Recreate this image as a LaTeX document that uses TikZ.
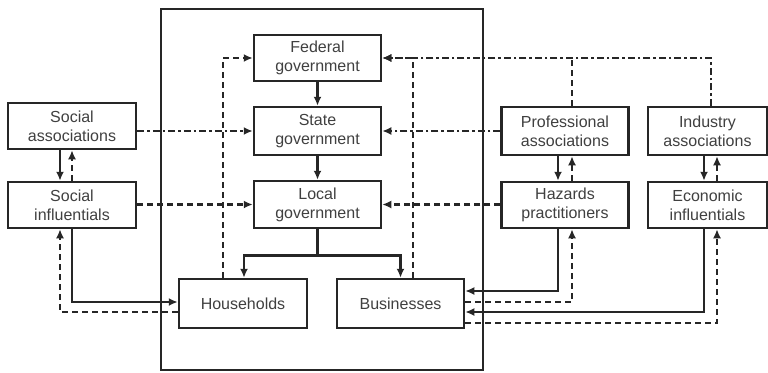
\documentclass[tikz,border=0pt]{standalone}
\usepackage{fontspec}
\setmainfont{Liberation Sans}
\usepackage{tikz}
\usetikzlibrary{arrows.meta}

\begin{document}
\begin{tikzpicture}[x=1pt, y=-1pt, line width=2.5pt, draw=black!85,
    >={Latex[length=9pt,width=8pt]},
    box/.style={draw=black!85, line width=2.5pt, fill=white, inner sep=0pt, align=center,
        text=black!75, font=\fontsize{16}{19}\selectfont},
    dashline/.style={dash pattern=on 6pt off 4pt},
    dotdash/.style={dash pattern=on 7pt off 3pt on 2.5pt off 3pt}]
                \useasboundingbox (0,0) rectangle (768,372);

                % Government frame (centre)
                \draw[line width=1.8pt] (161,9) rectangle (483,370);

                % Government levels
                \node[box, minimum width=127pt, minimum height=46pt] (fed) at (317.5,58) {Federal\\government};
                \node[box, minimum width=127pt, minimum height=48pt] (state) at (317.5,131) {State\\government};
                \node[box, minimum width=127pt, minimum height=47pt] (local) at (317.5,204.5) {Local\\government};
                \node[box, minimum width=128pt, minimum height=49pt] (hh) at (243,303.5) {Households};
                \node[box, minimum width=127pt, minimum height=49pt] (bus) at (400.5,303.5) {Businesses};

                % Social side (left)
                \node[box, minimum width=128pt, minimum height=46pt] (socass) at (72,126) {Social\\associations};
                \node[box, minimum width=128pt, minimum height=46pt] (socinf) at (72,205) {Social\\influentials};

                % Economic side (right)
                \node[box, minimum width=127pt, minimum height=48pt] (prof) at (565,131) {Professional\\associations};
                \node[box, minimum width=127pt, minimum height=46pt] (haz) at (565,205) {Hazards\\practitioners};
                \node[box, minimum width=119pt, minimum height=48pt] (ind) at (707.5,131) {Industry\\associations};
                \node[box, minimum width=119pt, minimum height=46pt] (eco) at (707.5,205) {Economic\\influentials};

                % Top-down chain
                \draw[->] (fed) -- (state);
                \draw[->] (state) -- (local);
                \coordinate (split) at ([yshift=-26pt]local.south);
                \draw (local.south) -- (split);
                \draw[->] (split) -| ([xshift=1pt]hh.north);
                \draw[->] (split) -| (bus.north);

                % Feedback to federal level
                \draw[dashline, ->] ([xshift=-20pt]hh.north) |- (fed.west);
                \draw[dashline, ->] ([xshift=12.5pt]bus.north) |- (fed.east);
                \draw[dotdash, ->] ([xshift=3.5pt]ind.north) |- (fed.east);
                \draw[dashline] ([xshift=7pt]prof.north) -- ([xshift=7pt]prof.north |- fed.east);

                % Horizontal links
                \draw[dotdash, ->] (socass.east |- state.west) -- (state.west);
                \draw[dashline, ->] (socinf.east |- local.west) -- (local.west);
                \draw[dotdash, ->] (prof.west) -- (state.east);
                \draw[dashline, ->] (haz.west |- local.east) -- (local.east);

                % Pairs
                \draw[->] ([xshift=-12pt]socass.south) -- ([xshift=-12pt]socinf.north);
                \draw[dashline, ->] (socinf.north) -- (socass.south);
                \draw[->] ([xshift=-7pt]prof.south) -- ([xshift=-7pt]haz.north);
                \draw[dashline, ->] ([xshift=7pt]haz.north) -- ([xshift=7pt]prof.south);
                \draw[->] ([xshift=-3.5pt]ind.south) -- ([xshift=-3.5pt]eco.north);
                \draw[dashline, ->] ([xshift=9.5pt]eco.north) -- ([xshift=9.5pt]ind.south);

                % Households and businesses
                \draw[->] (socinf.south) |- ([yshift=1.5pt]hh.west);
                \draw[dashline, ->] ([yshift=-8.5pt]hh.west) -| ([xshift=-12pt]socinf.south);
                \draw[->] ([xshift=-7pt]haz.south) |- ([yshift=12.5pt]bus.east);
                \draw[dashline, ->] ([yshift=1.5pt]bus.east) -| ([xshift=7pt]haz.south);
                \draw[->] ([xshift=-3.5pt]eco.south) |- ([yshift=-8.5pt]bus.east);
                \draw[dashline, ->] ([yshift=-19.5pt]bus.east) -| ([xshift=9.5pt]eco.south);
\end{tikzpicture}
\end{document}
